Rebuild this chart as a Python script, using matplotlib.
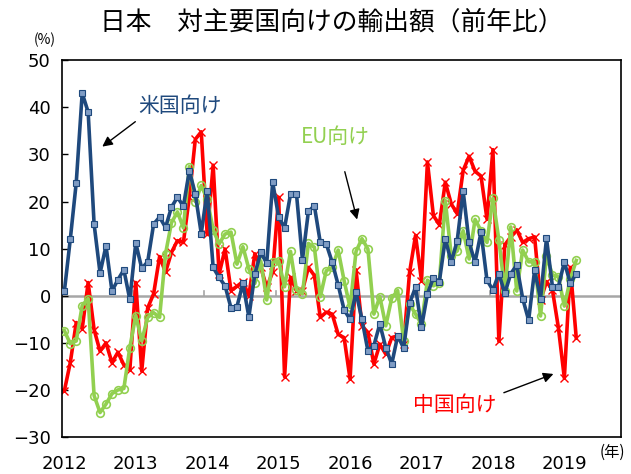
import numpy as np
import matplotlib
matplotlib.use('Agg')
import matplotlib.pyplot as plt

plt.rcParams['font.family'] = ['Noto Sans CJK JP', 'DejaVu Sans']

# Japan exports by destination, % y/y, monthly Jan 2012 - Mar 2019
us = [0.9, 12, 24, 43, 39, 15.2, 4.8, 10.6, 1, 3.4, 5.5, -0.8,
      11.2, 5.8, 7.2, 15.2, 16.7, 14.5, 18.8, 20.9, 19, 26.5, 21.6, 13.2,
      22.3, 6, 3.9, 2.1, -2.6, -2.3, 2.6, -4.5, 4.6, 9.2, 6.9, 24.1,
      16.7, 14.4, 21.6, 21.6, 7.6, 17.9, 19.1, 11.3, 11, 7.1, 2.3, -3,
      -5, 0.7, -5, -11.7, -10.6, -6, -11, -14.5, -8.5, -11.1, -1.6, 1.8,
      -6.7, 0.4, 3.8, 3, 12.1, 7.1, 11.7, 22.2, 11.3, 7.1, 13.5, 3.3,
      1.2, 4.7, 0.5, 4.7, 6.5, -0.6, -5.2, 5.4, -0.6, 12.2, 1.9, 1.9,
      7.2, 2.6, 4.7]

eu = [-7.4, -10.2, -9.6, -2.1, -0.6, -21.2, -24.8, -23, -20.8, -20, -19.7, -11,
      -4.2, -9.6, -4.6, -3.6, -4.6, 8.9, 15.5, 17.8, 14.4, 27.4, 20, 23.4,
      20.5, 14, 11, 13.1, 13.5, 6.7, 10.4, 5.7, 2.6, 7.4, -0.9, 7.1,
      7.4, 1.9, 9.4, 1.2, 0.4, 11.1, 10.3, -0.2, 5.3, 6, 9.7, 3.2,
      -2.5, 9.4, 12.1, 9.9, -3.9, -0.2, -6.4, -0.5, 1.1, -9.6, -1.8, -3.9,
      -6, 3.3, 2.1, 2.8, 20.2, 8.5, 9.5, 13.8, 7.8, 16.2, 13.8, 11.3,
      20.7, 11.8, 1, 14.6, 1, 9.7, 7.2, 7.2, -4.3, 8.5, 4.4, 4,
      -2.2, 3.5, 7.5]

cn = [-20.2, -14.2, -5.7, -7, 2.8, -7.2, -11.8, -10, -14.2, -12, -14.7, -15.8,
      2.8, -16, -2.6, 0.4, 8.3, 5, 9.2, 11.7, 11.3, 21, 33.2, 34.8,
      13, 27.7, 4.6, 9.9, 1.1, 2, 3, 0, 8.9, 6, 1.8, 5,
      20.9, -17.2, 3.9, 1.1, 1.1, 6, 4.3, -4.6, -3.5, -3.9, -8.2, -8.9,
      -17.7, 5.5, -6.4, -7.8, -14.5, -10.3, -12.4, -8.9, -8.5, -10.3, 5, 12.8,
      3.2, 28.4, 17, 15.1, 24.1, 19.5, 17.4, 26.6, 29.6, 26.4, 25.4, 16.3,
      31, -9.7, 10.8, 12.5, 14, 11.3, 12.1, 12.5, -1, 3, 1.2, -6.8,
      -17.5, 6, -9]

months = np.arange(len(us))
years = list(range(2012, 2020))

BLUE = '#1F497D'
GREEN = '#92D050'
RED = '#FF0000'

fig = plt.figure(figsize=(6.31, 4.74), dpi=100)
ax = fig.add_axes([0.098, 0.078, 0.886, 0.795])

# zero line with year tick marks
ax.axhline(0, color='#A6A6A6', lw=1.8, zorder=0.5)
for b in np.arange(11.5, 93, 12):
    ax.plot([b, b], [0, 1.1], color='#A6A6A6', lw=1.2, zorder=0.5)

ax.plot(months, cn, color=RED, lw=2.6, marker='x', ms=5.5, mew=1.0, zorder=2)
ax.plot(months, eu, color=GREEN, lw=2.6, marker='o', ms=5.5, mfc='none',
        mec=GREEN, mew=1.2, zorder=3)
ax.plot(months, us, color=BLUE, lw=2.6, marker='s', ms=3.8, mfc='#7F9CC4',
        mec=BLUE, mew=0.8, zorder=4)

ax.set_xlim(-0.42, 93.5)
ax.set_ylim(-30, 50)
ax.set_yticks(range(-30, 60, 10))
ax.set_xticks(range(0, 96, 12))
ax.set_xticklabels(years)
ax.tick_params(axis='x', length=0, pad=13, labelsize=13)
ax.tick_params(axis='y', direction='in', length=4, width=1, labelsize=13, pad=8)
for lbl in ax.get_xticklabels() + ax.get_yticklabels():
    lbl.set_fontfamily('DejaVu Sans')
for s in ax.spines.values():
    s.set_linewidth(1.2)
    s.set_color('black')

ax.text(-0.03, 1.055, '(%)', transform=ax.transAxes, ha='center', va='center',
        fontsize=10)
ax.text(0.985, -0.04, '(年)', transform=ax.transAxes, ha='center', va='center',
        fontsize=11)

fig.text(0.525, 0.952, '日本　対主要国向けの輸出額（前年比）', ha='center', va='center',
         fontsize=18.5)

# series labels and arrows
ax.text(19.4, 40.2, '米国向け', color=BLUE, fontsize=15, ha='center', va='center')
ax.annotate('', xy=(6.0, 31.3), xytext=(12.3, 37.3),
            arrowprops=dict(arrowstyle='-|>', color='black', lw=1, mutation_scale=15))
ax.text(45.5, 33.7, 'EU向け', color=GREEN, fontsize=15, ha='center', va='center')
ax.annotate('', xy=(49.3, 15.6), xytext=(47.0, 26.9),
            arrowprops=dict(arrowstyle='-|>', color='black', lw=1, mutation_scale=15))
ax.text(65.6, -23.2, '中国向け', color=RED, fontsize=15, ha='center', va='center')
ax.annotate('', xy=(82.6, -16.4), xytext=(73.4, -20.8),
            arrowprops=dict(arrowstyle='-|>', color='black', lw=1, mutation_scale=15))

fig.savefig('out.png', dpi=100)
